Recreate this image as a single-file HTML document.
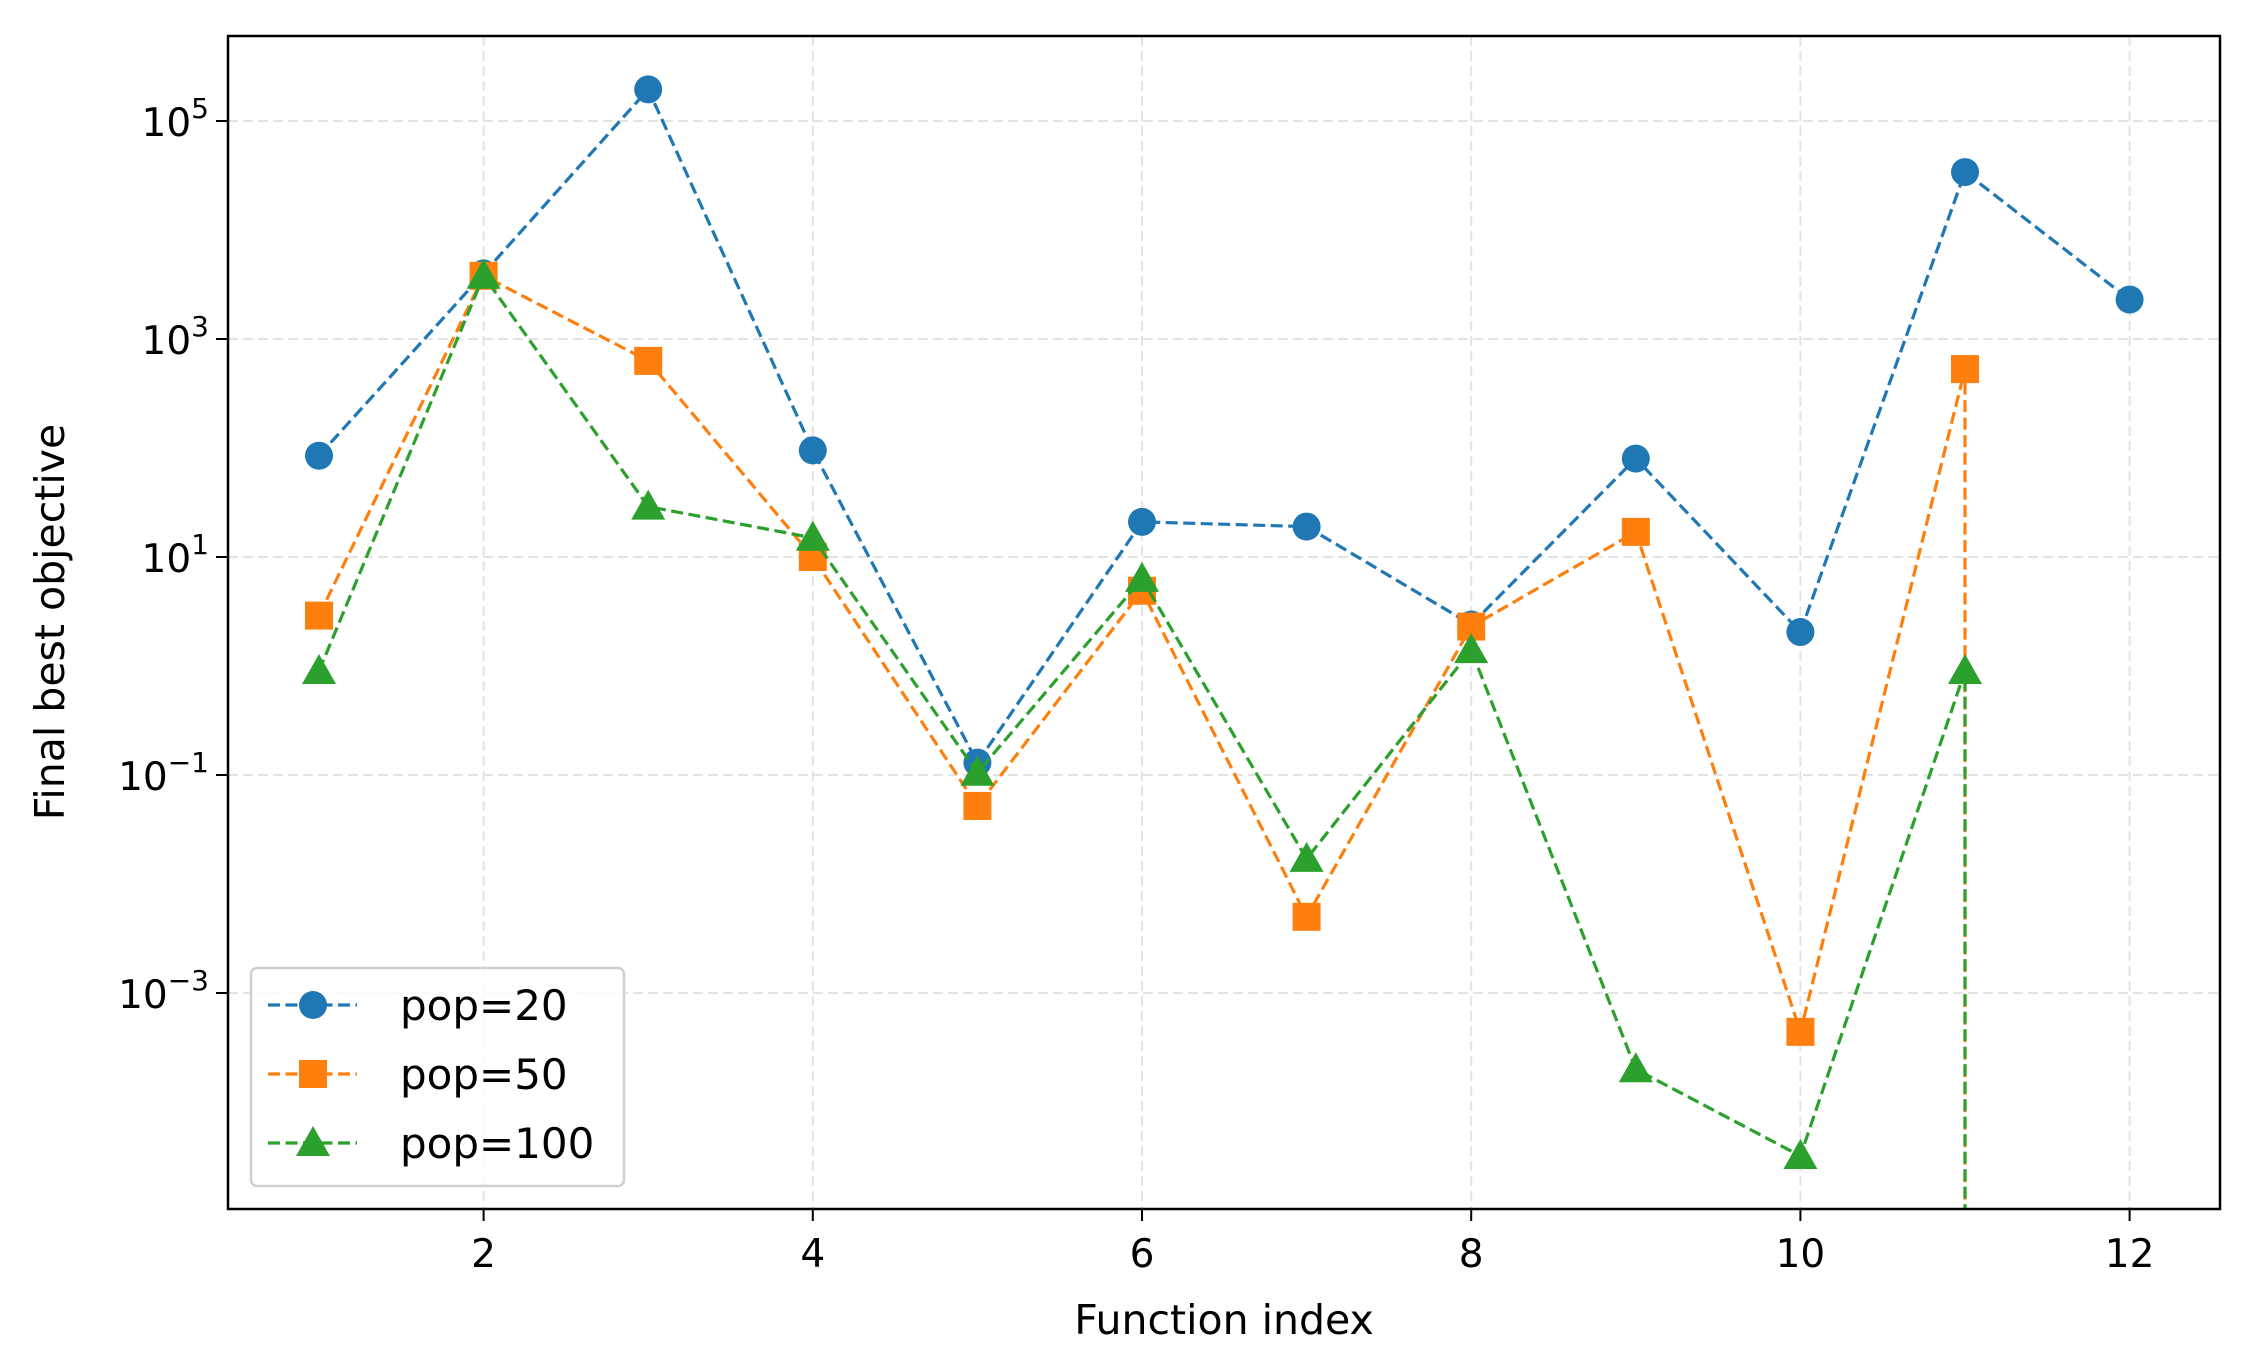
<!DOCTYPE html>
<html><head><meta charset="utf-8"><style>
html,body{margin:0;padding:0;background:#fff;overflow:hidden;width:2253px;height:1368px;}
svg{display:block;font-family:"DejaVu Sans","Liberation Sans",sans-serif;}
</style></head><body>
<svg id="chart" width="2253" height="1368" viewBox="0 0 2253 1368" xmlns="http://www.w3.org/2000/svg">
<defs><clipPath id="plotclip"><rect x="228" y="36" width="1992" height="1173"/></clipPath></defs>
<rect x="0" y="0" width="2253" height="1368" fill="#fff"/>
<g id="grid"></g>
<g id="series" clip-path="url(#plotclip)"></g>
<rect x="228" y="36" width="1992" height="1173" fill="none" stroke="#000" stroke-width="2.5"/>
<g id="ticks"></g>
<text x="1224" y="1334" font-size="41" text-anchor="middle">Function index</text>
<text transform="translate(64,622) rotate(-90)" font-size="41" text-anchor="middle">Final best objective</text>
<g id="legend"></g>
</svg>
<script>
const categories = [1,2,3,4,5,6,7,8,9,10,11,12];
const pop20 = [85,4000,195000,95,0.13,21,19,2.4,80,2.05,34000,2300];
const pop50 = [2.9,3800,630,10,0.052,4.9,0.005,2.3,17,0.00044,530,0];
const pop100 = [0.9,3800,29,15,0.105,6.3,0.017,1.4,0.0002,0.000032,0.9,0];
const xTicks = [2,4,6,8,10,12];
const yTickExps = [-3,-1,1,3,5];
const seriesNames = ["pop=20","pop=50","pop=100"];

const NS="http://www.w3.org/2000/svg";
const L=228,R=2220,T=36,B=1209;
function xs(v){return 319+(v-1)*164.6;}
function ys(v){ if(v<=0) return B+100; return 557-(Math.log10(v)-1)*109;}
function mk(tag,attrs,parent){const e=document.createElementNS(NS,tag);for(const k in attrs)e.setAttribute(k,attrs[k]);if(parent)parent.appendChild(e);return e;}

const grid=document.getElementById('grid'), ticks=document.getElementById('ticks');
xTicks.forEach(t=>{
  const x=xs(t);
  const g=mk('line',{x1:x,x2:x,y1:T,y2:B,stroke:'#e3e3e3','stroke-width':2,'stroke-dasharray':'10,5'},grid);
  
  
  const tk=mk('line',{x1:x,x2:x,y1:B,y2:B+12,stroke:'#000','stroke-width':2},ticks);
  
  
  const tx=mk('text',{x:x,y:B+58,'font-size':39,'text-anchor':'middle'},ticks);
  tx.textContent=t;
  
  
});
yTickExps.forEach(e=>{
  const y=ys(Math.pow(10,e));
  const g=mk('line',{x1:L,x2:R,y1:y,y2:y,stroke:'#e3e3e3','stroke-width':2,'stroke-dasharray':'10,5'},grid);
  
  
  const tk=mk('line',{x1:L-12,x2:L,y1:y,y2:y,stroke:'#000','stroke-width':2},ticks);
  
  
  const tx=mk('text',{x:L-19,y:y+15,'font-size':39,'text-anchor':'end'},ticks);
  
  
  const s1=mk('tspan',{},tx); s1.textContent='10';
  const s2=mk('tspan',{dy:-18,'font-size':28},tx); s2.textContent=(e<0?'\u2212'+(-e):String(e));
});

const colors=['#1f77b4','#ff7f0e','#2ca02c'];
const data=[pop20,pop50,pop100];
const shapes=['circle','square','triangle'];
function marker(shape,x,y,c,parent){
  let m;
  if(shape==='circle') m=mk('circle',{cx:x,cy:y,r:14,fill:c},parent);
  else if(shape==='square') m=mk('rect',{x:x-14,y:y-14,width:28,height:28,fill:c},parent);
  else m=mk('polygon',{points:`${x},${y-17} ${x+17},${y+13} ${x-17},${y+13}`,fill:c},parent);
  return m;
}
const sg=document.getElementById('series');
data.forEach((vals,si)=>{
  const g=mk('g',{},sg);
  
  
  const pts=vals.map((v,i)=>{
    if(v<=0) return [xs(categories[i-1]),ys(v)];
    return [xs(categories[i]),ys(v)];
  });
  const line=mk('polyline',{points:pts.map(p=>p.join(',')).join(' '),fill:'none',stroke:colors[si],'stroke-width':3.2,'stroke-dasharray':'12,5.5'},g);
  
  
  vals.forEach((v,i)=>{
    if(v<=0) return;
    const m=marker(shapes[si],xs(categories[i]),ys(v),colors[si],g);
    
    
  });
});

const lg=document.getElementById('legend');
const box=mk('rect',{x:251,y:968,width:373,height:218,rx:6,fill:'#fff','fill-opacity':0.8,stroke:'#d0d0d0','stroke-width':2.5},lg);


[1005,1074,1143].forEach((y,si)=>{
  const e=mk('g',{},lg);
  
  
  mk('line',{x1:268,x2:357,y1:y,y2:y,stroke:colors[si],'stroke-width':3.2,'stroke-dasharray':'12,5.5'},e);
  marker(shapes[si],313,y,colors[si],e);
  const t=mk('text',{x:400,y:y+15,'font-size':42},e);
  t.textContent=seriesNames[si];
});
</script>
</body></html>
